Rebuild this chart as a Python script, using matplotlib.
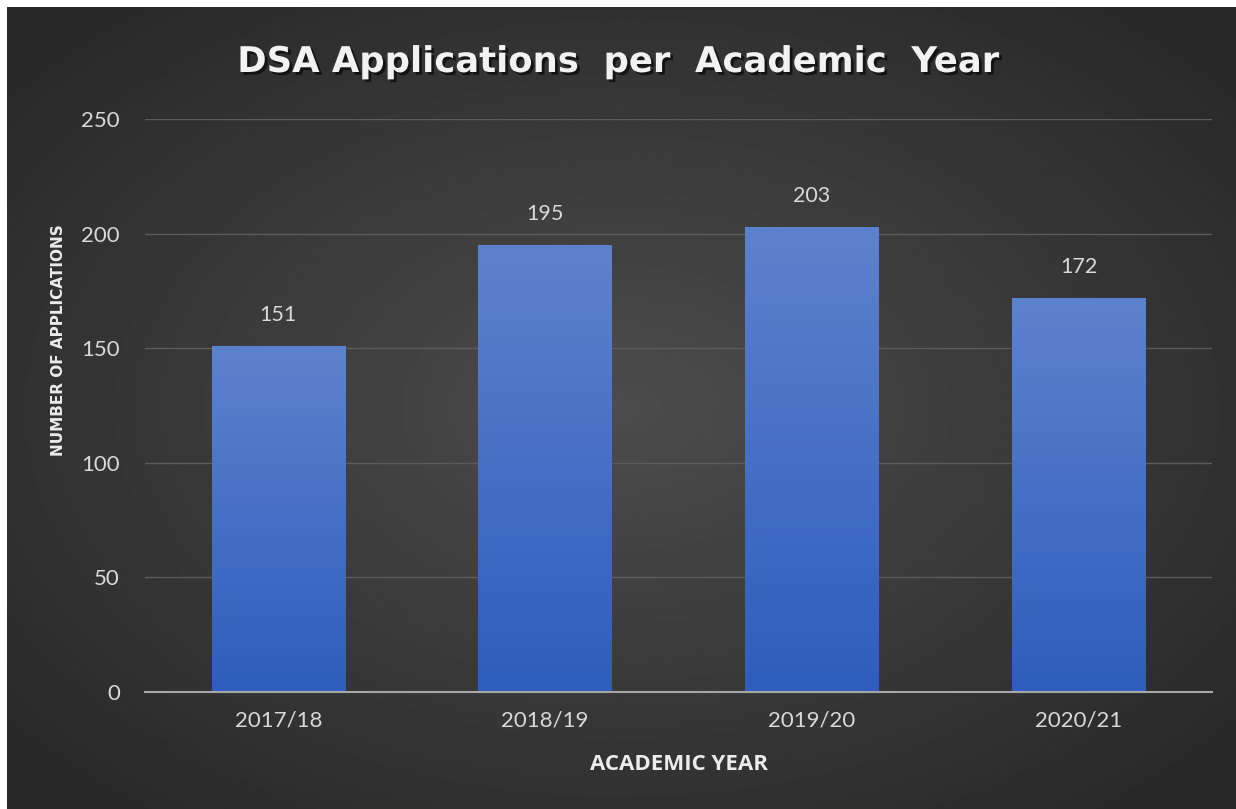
import numpy as np
import matplotlib.pyplot as plt
import matplotlib.patheffects as pe

years = ['2017/18', '2018/19', '2019/20', '2020/21']
applications = [151, 195, 203, 172]
y_ticks = [0, 50, 100, 150, 200, 250]

plt.rcParams['font.family'] = ['Lato', 'DejaVu Sans']

W, H = 1236, 809
fig = plt.figure(figsize=(W / 100, H / 100), dpi=100, facecolor='white')

# dark radial background, leaving a thin white strip top and left
bg = fig.add_axes([7 / W, 0, 1 - 7 / W, 1 - 7 / H])
yy, xx = np.mgrid[-1:1:400j, -1:1:600j]
r = np.sqrt(xx ** 2 + yy ** 2)
shade = 0.30 - 0.14 * np.clip(r / 1.3, 0, 1)
bg.imshow(shade, cmap='gray', vmin=0, vmax=1, aspect='auto', extent=[0, 1, 0, 1])
bg.set_axis_off()

ax = fig.add_axes([145 / W, 1 - 692 / H, (1212 - 145) / W, (692 - 119) / H])
ax.set_facecolor('none')
x = np.arange(len(years))
bars = ax.bar(x, applications, width=0.5, color='none', zorder=3)

# vertical blue gradient inside each bar
grad = np.linspace(0, 1, 256).reshape(-1, 1)
top = np.array([0x5d, 0x82, 0xcd]) / 255
bot = np.array([0x2f, 0x5d, 0xbd]) / 255
img = bot + (top - bot) * grad[..., None]
for b in bars:
    im = ax.imshow(img, origin='lower', aspect='auto', zorder=3,
                   extent=[b.get_x(), b.get_x() + b.get_width(), 0, b.get_height()])
    im.set_clip_path(b)

for xi, v in zip(x, applications):
    ax.text(xi, v + 9, str(v), ha='center', va='bottom', color='#d9d9d9', fontsize=15.5)

ax.set_xlim(-0.5, len(years) - 0.5)
ax.set_ylim(0, 250)
ax.set_yticks(y_ticks)
ax.set_xticks(x)
ax.set_xticklabels(years)
ax.yaxis.grid(True, color='#5c5c5c', linewidth=1)
ax.set_axisbelow(True)
for s in ['top', 'right', 'left']:
    ax.spines[s].set_visible(False)
ax.spines['bottom'].set_color('#a6a6a6')
ax.spines['bottom'].set_linewidth(1.5)
ax.spines['bottom'].set_zorder(4)
ax.tick_params(length=0, colors='#d9d9d9', labelsize=16)
ax.tick_params(axis='y', pad=18)
ax.tick_params(axis='x', pad=13)

ax.set_ylabel('NUMBER OF APPLICATIONS', color='#ececec', fontsize=11,
              fontweight='bold', family=['DejaVu Sans Condensed', 'DejaVu Sans'])
ax.yaxis.set_label_coords(-0.0742, 0.614)
ax.set_xlabel('ACADEMIC YEAR', color='#ececec', fontsize=16,
              fontweight='bold', family=['Open Sans', 'DejaVu Sans'], labelpad=17)

fig.text(0.5, 1 - 62 / H, 'DSA Applications  per  Academic  Year', ha='center', va='center',
         color='#f2f2f2', fontsize=25.5, fontweight='bold', family=['DejaVu Sans'],
         path_effects=[pe.withSimplePatchShadow(offset=(2, -2), shadow_rgbFace='black', alpha=0.6)])

fig.savefig('out.png', dpi=100, facecolor='white')
